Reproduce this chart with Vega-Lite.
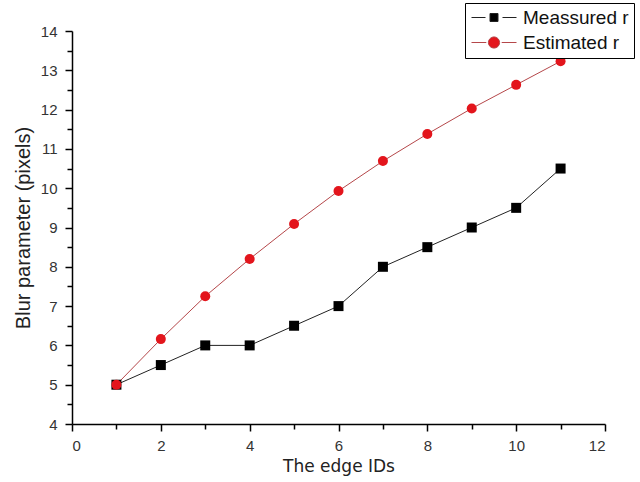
{
  "$schema": "https://vega.github.io/schema/vega-lite/v6.json",
  "width": 533,
  "height": 393,
  "autosize": "none",
  "padding": {"left": 72, "top": 31, "right": 35, "bottom": 58},
  "background": "white",
  "config": {
    "view": {"stroke": null},
    "axis": {
      "grid": false,
      "domainColor": "#000",
      "domainWidth": 1.5,
      "tickColor": "#000",
      "tickWidth": 1.5,
      "labelFont": "Liberation Sans",
      "labelFontSize": 15,
      "labelColor": "#333",
      "titleFont": "DejaVu Sans",
      "titleFontSize": 17,
      "titleFontWeight": "normal",
      "titleColor": "#222"
    }
  },
  "data": {
    "values": [
      {"series": "Meassured r", "id": 1, "r": 5},
      {"series": "Meassured r", "id": 2, "r": 5.5},
      {"series": "Meassured r", "id": 3, "r": 6},
      {"series": "Meassured r", "id": 4, "r": 6},
      {"series": "Meassured r", "id": 5, "r": 6.5},
      {"series": "Meassured r", "id": 6, "r": 7},
      {"series": "Meassured r", "id": 7, "r": 8},
      {"series": "Meassured r", "id": 8, "r": 8.5},
      {"series": "Meassured r", "id": 9, "r": 9},
      {"series": "Meassured r", "id": 10, "r": 9.5},
      {"series": "Meassured r", "id": 11, "r": 10.5},
      {"series": "Estimated r", "id": 1, "r": 5},
      {"series": "Estimated r", "id": 2, "r": 6.16},
      {"series": "Estimated r", "id": 3, "r": 7.25},
      {"series": "Estimated r", "id": 4, "r": 8.2},
      {"series": "Estimated r", "id": 5, "r": 9.09},
      {"series": "Estimated r", "id": 6, "r": 9.93},
      {"series": "Estimated r", "id": 7, "r": 10.69},
      {"series": "Estimated r", "id": 8, "r": 11.38},
      {"series": "Estimated r", "id": 9, "r": 12.03},
      {"series": "Estimated r", "id": 10, "r": 12.63},
      {"series": "Estimated r", "id": 11, "r": 13.23}
    ]
  },
  "resolve": {"axis": {"x": "independent", "y": "independent"}},
  "layer": [
    {
      "mark": {"type": "line", "strokeWidth": 1},
      "encoding": {
        "x": {
          "field": "id", "type": "quantitative",
          "scale": {"domain": [0, 12], "nice": false, "zero": false},
          "axis": {"orient": "bottom", "values": [0, 2, 4, 6, 8, 10, 12], "tickSize": 7, "labelPadding": 7, "title": "The edge IDs", "titlePadding": 5}
        },
        "y": {
          "field": "r", "type": "quantitative",
          "scale": {"domain": [4, 14], "nice": false, "zero": false},
          "axis": {"orient": "left", "values": [4, 5, 6, 7, 8, 9, 10, 11, 12, 13, 14], "tickSize": 7, "labelPadding": 8, "title": "Blur parameter (pixels)", "titleFont": "Liberation Sans", "titleFontSize": 20, "titlePadding": 7}
        },
        "stroke": {
          "field": "series", "type": "nominal",
          "scale": {"domain": ["Meassured r", "Estimated r"], "range": ["#222222", "#b5474a"]}
        },
        "detail": {"field": "series"}
      }
    },
    {
      "mark": {"type": "point", "filled": true, "opacity": 1, "size": 100},
      "encoding": {
        "x": {
          "field": "id", "type": "quantitative",
          "axis": {"orient": "bottom", "values": [1, 3, 5, 7, 9, 11], "labels": false, "domain": false, "tickSize": 5, "title": null}
        },
        "y": {
          "field": "r", "type": "quantitative",
          "axis": {"orient": "left", "values": [4.5, 5.5, 6.5, 7.5, 8.5, 9.5, 10.5, 11.5, 12.5, 13.5], "labels": false, "domain": false, "tickSize": 5, "title": null}
        },
        "fill": {
          "field": "series", "type": "nominal",
          "scale": {"domain": ["Meassured r", "Estimated r"], "range": ["#000000", "#e3151c"]},
          "legend": {
            "title": null,
            "orient": "none",
            "legendX": 393,
            "legendY": -28,
            "fillColor": "white",
            "strokeColor": "#000",
            "padding": 5,
            "labelFont": "Liberation Sans",
            "labelFontSize": 19,
            "labelColor": "#111",
            "labelOffset": 34,
            "rowPadding": 5,
            "symbolSize": 256,
            "symbolStrokeWidth": 1,
            "symbolOpacity": 1
          }
        },
        "shape": {
          "condition": {"test": "datum.series === 'Meassured r'", "value": "square"},
          "value": "circle"
        }
      }
    },
    {
      "transform": [{"filter": "false"}],
      "mark": {"type": "point", "filled": true, "opacity": 1},
      "encoding": {
        "x": {"field": "id", "type": "quantitative", "axis": null},
        "y": {"field": "r", "type": "quantitative", "axis": null},
        "shape": {
          "field": "series", "type": "nominal",
          "scale": {
            "domain": ["Meassured r", "Estimated r"],
            "range": [
              "M-1,0H0.75M2.875,0H4.625M1.3125,-0.5H2.3125V0.5H1.3125Z",
              "M-1,0H0.85M2.775,0H4.625M1.1125,0A0.7,0.7,0,1,0,2.5125,0A0.7,0.7,0,1,0,1.1125,0Z"
            ]
          }
        }
      }
    }
  ]
}
